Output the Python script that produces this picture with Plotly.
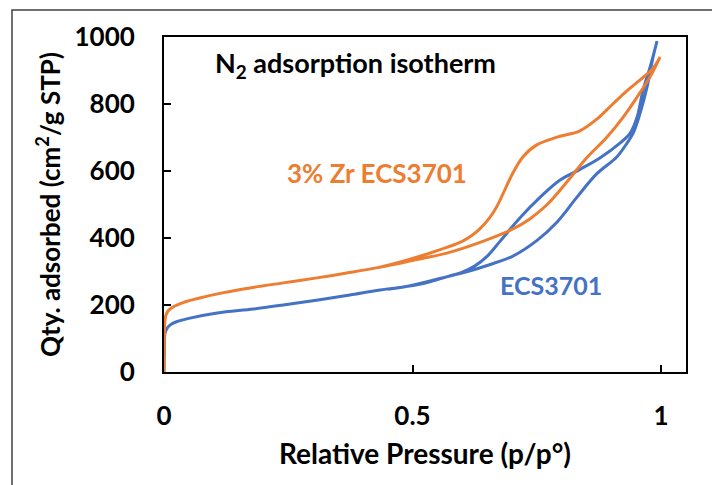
import plotly.graph_objects as go

# ECS3701 (blue): adsorption branch then desorption branch
ecs_ads_x = [0, 0.001, 0.002, 0.006, 0.012, 0.025, 0.05, 0.107, 0.18, 0.24, 0.31, 0.374, 0.435, 0.509,
             0.569, 0.616, 0.65, 0.702, 0.75, 0.791, 0.831, 0.871, 0.911, 0.932, 0.944, 0.958, 0.972, 0.984, 0.992]
ecs_ads_y = [0, 80, 116, 130, 140, 150, 160, 176, 188, 200, 215, 230, 245, 260,
             284, 302, 318, 346, 392, 448, 522, 592, 642, 684, 713, 773, 851, 940, 988]
ecs_des_x = [0.992, 0.978, 0.964, 0.952, 0.938, 0.918, 0.877, 0.837, 0.797, 0.757, 0.716, 0.676,
             0.65, 0.625, 0.6, 0.56, 0.5, 0.45]
ecs_des_y = [988, 910, 842, 761, 713, 684, 639, 605, 573, 522, 460, 390,
             345, 316, 298, 281, 259, 247]

# 3% Zr ECS3701 (orange)
zr_ads_x = [0, 0.001, 0.003, 0.008, 0.018, 0.04, 0.072, 0.12, 0.173, 0.24, 0.308, 0.37, 0.435, 0.5,
            0.569, 0.636, 0.702, 0.736, 0.771, 0.811, 0.851, 0.891, 0.924, 0.952, 0.978, 0.998]
zr_ads_y = [0, 120, 165, 182, 194, 208, 221, 237, 251, 266, 281, 296, 313, 333,
            355, 387, 427, 457, 500, 568, 640, 701, 761, 821, 881, 940]
zr_des_x = [0.998, 0.984, 0.958, 0.932, 0.903, 0.871, 0.837, 0.791, 0.75, 0.722, 0.702, 0.67,
            0.655, 0.636, 0.62, 0.6, 0.569, 0.52, 0.47, 0.43]
zr_des_y = [940, 907, 872, 840, 800, 755, 720, 701, 678, 642, 594, 495,
            460, 428, 408, 390, 372, 348, 326, 311]

x_ticks = [0, 0.5, 1]
x_tick_labels = ["0", "0.5", "1"]
y_ticks = [0, 200, 400, 600, 800, 1000]
y_tick_labels = ["0", "200", "400", "600", "800", "1000"]

BLUE = "#4472C4"
ORANGE = "#ED7D31"
FONT = "Lato"

fig = go.Figure()
fig.add_trace(go.Scatter(x=ecs_ads_x + ecs_des_x, y=ecs_ads_y + ecs_des_y, mode="lines",
                         line=dict(color=BLUE, width=3, shape="spline", smoothing=1),
                         name="ECS3701", showlegend=False))
fig.add_trace(go.Scatter(x=zr_ads_x + zr_des_x, y=zr_ads_y + zr_des_y, mode="lines",
                         line=dict(color=ORANGE, width=3, shape="spline", smoothing=1),
                         name="3% Zr ECS3701", showlegend=False))

L, R, T, B = 164, 26, 37, 113
W, H = 712, 485
pw, ph = W - L - R, H - T - B

fig.update_layout(
    width=W, height=H,
    margin=dict(l=L, r=R, t=T, b=B, pad=0),
    plot_bgcolor="white", paper_bgcolor="white",
    font=dict(family=FONT, size=24, color="black", weight="bold"),
    xaxis=dict(range=[0, 1.0503], tickvals=x_ticks, ticktext=x_tick_labels,
               showline=True, mirror=True, linecolor="black", linewidth=2,
               ticks="inside", ticklen=7, tickwidth=2, tickcolor="black",
               showgrid=False, zeroline=False, ticklabelstandoff=20,
               tickfont=dict(family=FONT, size=26, weight="bold"),
               title=dict(text="Relative Pressure (p/p°)", standoff=14,
                          font=dict(family=FONT, size=28, weight="bold"))),
    yaxis=dict(range=[0, 1000], tickvals=y_ticks, ticktext=y_tick_labels,
               showline=True, mirror=True, linecolor="black", linewidth=2,
               ticks="inside", ticklen=7, tickwidth=2, tickcolor="black",
               showgrid=False, zeroline=False, ticklabelstandoff=22,
               tickfont=dict(family=FONT, size=26, weight="bold"),
               title=dict(text="Qty. adsorbed (cm<sup>2</sup>/g STP)", standoff=6,
                          font=dict(family=FONT, size=26, weight="bold"))),
    annotations=[
        dict(x=0.0986, y=919, xref="x", yref="y", xanchor="left", yanchor="middle",
             text="N<sub>2</sub> adsorption isotherm", showarrow=False,
             font=dict(family=FONT, size=27, color="black", weight="bold")),
        dict(x=0.2435, y=594, xref="x", yref="y", xanchor="left", yanchor="middle",
             text="3% Zr ECS3701", showarrow=False,
             font=dict(family=FONT, size=26, color=ORANGE, weight="bold")),
        dict(x=0.672, y=260, xref="x", yref="y", xanchor="left", yanchor="middle",
             text="ECS3701", showarrow=False,
             font=dict(family=FONT, size=25, color=BLUE, weight="bold")),
    ],
    shapes=[
        dict(type="rect", xref="paper", yref="paper",
             x0=(12 - L) / pw, x1=(W + 10 - L) / pw,
             y0=(H - B - (H + 10)) / ph, y1=(H - B - 10) / ph,
             line=dict(color="#404040", width=1.5), fillcolor="rgba(0,0,0,0)", layer="below"),
    ],
)

fig.write_html("out.html")
